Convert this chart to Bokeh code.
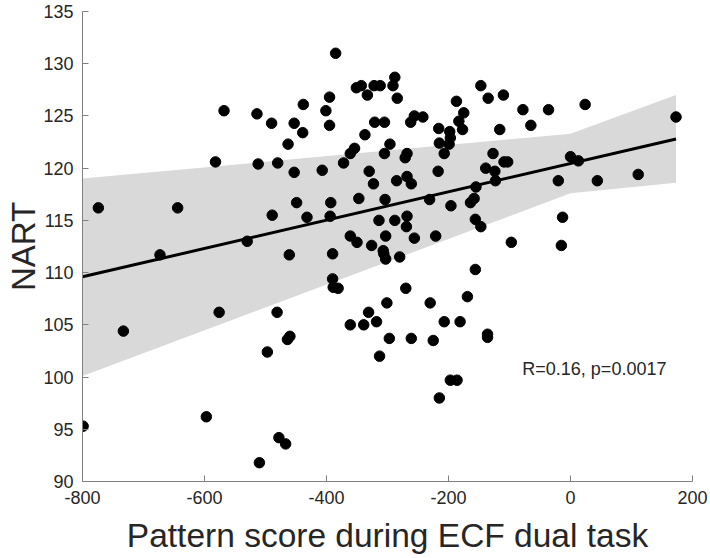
from bokeh.plotting import figure
from bokeh.models import FixedTicker, Label, Range1d
from bokeh.embed import file_html
from bokeh.resources import INLINE

# ---- data ----
pattern_score = [-799, -774, -733, -673, -644, -597, -582, -576, -568, -530,
                 -514, -512, -510, -497, -490, -489, -481, -480, -478, -467,
                 -464, -460, -463, -461, -453, -453, -449, -439, -438, -432,
                 -407, -401, -395, -395, -393, -394, -390, -390, -389, -381,
                 -385, -372, -361, -354, -361, -361, -351, -347, -350, -343,
                 -339, -337, -333, -330, -331, -326, -323, -322, -321, -318,
                 -312, -314, -313, -307, -305, -306, -303, -304, -305, -303,
                 -301, -297, -296, -291, -288, -284, -285, -288, -280, -270,
                 -268, -271, -268, -261, -268, -269, -262, -261, -256, -242,
                 -256, -231, -230, -225, -221, -217, -216, -215, -215, -207,
                 -207, -198, -197, -199, -197, -186, -196, -187, -181, -175,
                 -183, -177, -169, -164, -158, -155, -156, -147, -156, -147,
                 -135, -139, -124, -123, -136, -136, -127, -116, -110, -109,
                 -103, -97, -78, -65, -36, -20, -15, -13, 0, 13,
                 24, 44, 111, 173]
nart = [95.3, 116.2, 104.4, 111.7, 116.2, 96.2, 120.6, 106.2, 125.5, 113.0,
        125.2, 120.4, 91.8, 102.4, 124.3, 115.5, 106.2, 120.5, 94.2, 93.6,
        103.6, 103.9, 122.3, 111.7, 124.3, 119.6, 116.7, 123.4, 126.1, 115.3,
        119.8, 125.5, 124.1, 126.8, 116.7, 115.4, 111.8, 109.4, 108.6, 108.5,
        131.0, 120.5, 121.4, 121.9, 113.5, 105.0, 127.7, 117.1, 112.9, 127.9,
        105.0, 123.2, 127.0, 119.7, 106.2, 112.6, 118.5, 127.9, 124.4, 105.3,
        127.9, 115.0, 102.0, 112.1, 124.4, 111.8, 111.3, 117.0, 121.4, 113.5,
        107.1, 103.7, 122.3, 127.9, 128.7, 126.7, 118.8, 115.0, 111.5, 108.5,
        121.4, 121.0, 119.2, 118.5, 115.4, 114.4, 124.4, 103.7, 125.0, 124.9,
        113.3, 117.0, 107.1, 103.5, 113.5, 119.7, 123.8, 122.4, 98.0, 121.4,
        105.3, 123.5, 122.9, 122.3, 99.7, 99.7, 116.4, 126.4, 105.3, 125.3,
        124.5, 123.7, 107.7, 116.7, 117.1, 118.2, 115.1, 114.4, 110.3, 127.9,
        126.7, 120.0, 119.7, 118.8, 104.1, 103.8, 121.4, 123.7, 127.0, 120.6,
        120.6, 112.9, 125.6, 124.1, 125.6, 118.8, 112.6, 115.3, 121.1, 120.7,
        126.1, 118.8, 119.4, 124.9]

fit_x = [-800, 173]
fit_y = [109.6, 122.8]

band_x = [-800, 0, 173]
band_lower = [100.1, 117.6, 118.6]
band_upper = [119.0, 123.3, 127.0]

xtick_vals = [-800, -600, -400, -200, 0, 200]
xtick_labels = ["-800", "-600", "-400", "-200", "0", "200"]
ytick_vals = [90, 95, 100, 105, 110, 115, 120, 125, 130, 135]
ytick_labels = ["90", "95", "100", "105", "110", "115", "120", "125", "130", "135"]

x_label = "Pattern score during ECF dual task"
y_label = "NART"
stat_text = "R=0.16, p=0.0017"

FONT = "Liberation Sans"
TEXT = "#262626"
AXIS = "#808080"

p = figure(width=710, height=558,
           x_range=Range1d(-800, 200), y_range=Range1d(90, 135),
           output_backend="svg", toolbar_location=None,
           min_border_left=82, min_border_right=18,
           min_border_top=11, min_border_bottom=77)
p.outline_line_color = None
p.xgrid.visible = False
p.ygrid.visible = False
p.background_fill_color = "white"
p.border_fill_color = "white"

p.varea(x=band_x, y1=band_lower, y2=band_upper, fill_color="#d9d9d9", fill_alpha=1.0)
p.line(fit_x, fit_y, line_width=3, line_color="black")
p.scatter(pattern_score, nart, size=10.5, fill_color="black", line_color="black")

p.xaxis.ticker = FixedTicker(ticks=xtick_vals)
p.xaxis.major_label_overrides = dict(zip(xtick_vals, xtick_labels))
p.yaxis.ticker = FixedTicker(ticks=ytick_vals)
p.yaxis.major_label_overrides = dict(zip(ytick_vals, ytick_labels))

for ax in (p.xaxis[0], p.yaxis[0]):
    ax.axis_line_color = AXIS
    ax.axis_line_width = 1
    ax.major_tick_line_color = AXIS
    ax.major_tick_in = 6
    ax.major_tick_out = 0
    ax.minor_tick_line_color = None
    ax.major_label_text_font = FONT
    ax.major_label_text_font_size = "18px"
    ax.major_label_text_color = TEXT
    ax.major_label_standoff = 9
    ax.axis_label_text_font = FONT
    ax.axis_label_text_font_style = "normal"
    ax.axis_label_text_color = TEXT

p.xaxis.axis_label = x_label
p.xaxis.axis_label_text_font_size = "33.5px"
p.xaxis.axis_label_standoff = 10
p.yaxis.axis_label = y_label
p.yaxis.axis_label_text_font_size = "33px"
p.yaxis.axis_label_standoff = -2

p.add_layout(Label(x=-79, y=100.8, text=stat_text,
                   text_align="left", text_baseline="middle",
                   text_font=FONT, text_font_size="18px", text_color=TEXT))

open("out.html", "w").write(file_html(p, INLINE))
